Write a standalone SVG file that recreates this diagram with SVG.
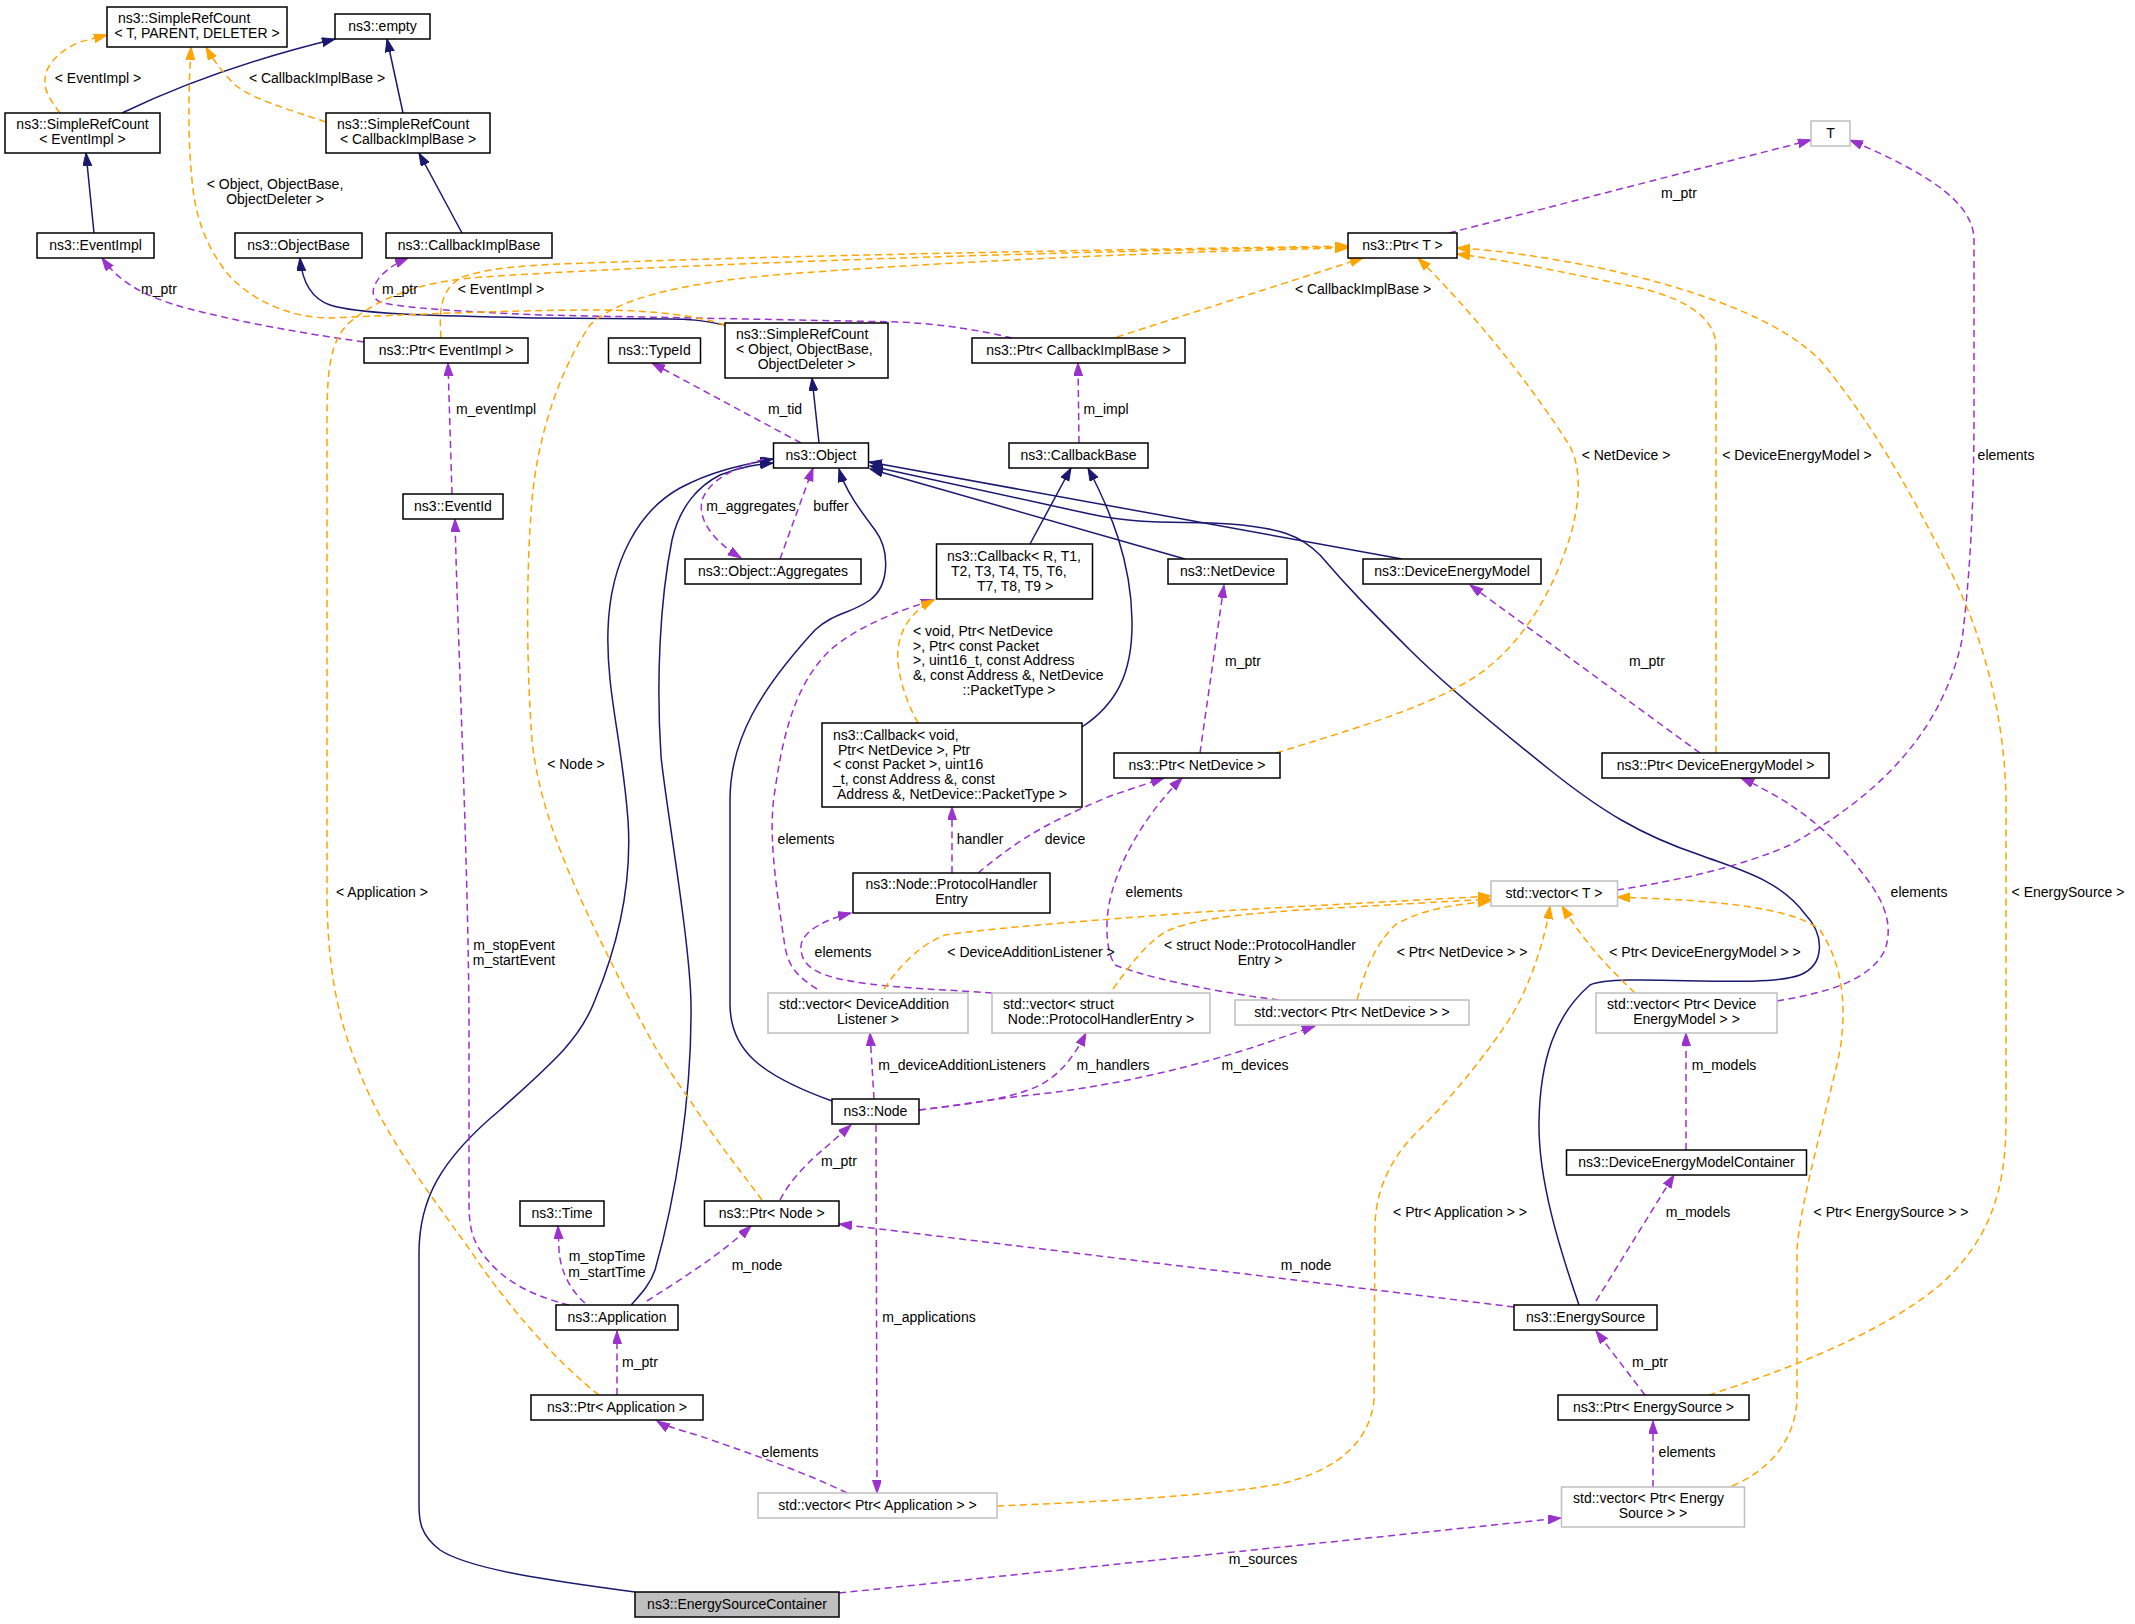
<svg xmlns="http://www.w3.org/2000/svg" width="2135" height="1624" viewBox="0 0 2135 1624">
<style>
text{font-family:"Liberation Sans",Arial,sans-serif;font-size:14px;fill:#000}
.m{text-anchor:middle}
.s{text-anchor:start}
.nb{fill:#fff;stroke:#000;stroke-width:1.5}
.ng{fill:#fff;stroke:#bfbfbf;stroke-width:1.5}
.nf{fill:#bfbfbf;stroke:#000;stroke-width:1.5}
.inh{fill:none;stroke:#191970;stroke-width:1.5;marker-end:url(#ab)}
.use{fill:none;stroke:#9a32cd;stroke-width:1.5;stroke-dasharray:7,4.5;marker-end:url(#ap)}
.tpl{fill:none;stroke:#ffa500;stroke-width:1.5;stroke-dasharray:7,4.5;marker-end:url(#ao)}
</style>
<defs>
<marker id="ab" markerUnits="userSpaceOnUse" markerWidth="14" markerHeight="10" refX="13" refY="4.5" orient="auto"><path d="M0,0 L13,4.5 L0,9 z" fill="#191970" stroke="#191970"/></marker>
<marker id="ap" markerUnits="userSpaceOnUse" markerWidth="14" markerHeight="10" refX="13" refY="4.5" orient="auto"><path d="M0,0 L13,4.5 L0,9 z" fill="#9a32cd" stroke="#9a32cd"/></marker>
<marker id="ao" markerUnits="userSpaceOnUse" markerWidth="14" markerHeight="10" refX="13" refY="4.5" orient="auto"><path d="M0,0 L13,4.5 L0,9 z" fill="#ffa500" stroke="#ffa500"/></marker>
</defs>
<rect width="2135" height="1624" fill="#fff"/>
<g id="edges">
<!-- inheritance -->
<path class="inh" d="M122,113 C170,90 240,62 335,39"/>
<path class="inh" d="M94,233 L86,153"/>
<path class="inh" d="M403,113 L387,39"/>
<path class="inh" d="M462,233 L419,153"/>
<path class="inh" d="M725,325 C700,320 690,319 669,319 L540,318 C450,316 360,315 330,305 C310,298 302,280 300,258"/>
<path class="inh" d="M819,443 L812,378"/>
<path class="inh" d="M1030,544 L1071,468"/>
<path class="inh" d="M1082,727 C1115,705 1133,675 1132,620 C1131,560 1110,510 1088,468"/>
<path class="inh" d="M1185,559 L870,469"/>
<path class="inh" d="M1402,559 L869,462"/>
<path class="inh" d="M1579,1305 C1560,1250 1538,1180 1539,1122 C1540,1060 1555,1015 1590,985 C1620,972 1760,990 1800,975 C1825,965 1825,935 1805,914 C1780,880 1740,870 1700,855 C1640,835 1600,810 1550,770 C1500,730 1440,680 1410,650 C1370,610 1350,590 1320,555 C1300,535 1280,528 1230,524 C1180,521 1140,525 1090,514 L870,466"/>
<path class="inh" d="M832,1101 C760,1075 730,1050 730,1004 L730,800 C730,740 760,690 815,630 C835,612 850,614 870,600 C890,585 890,550 875,530 C860,510 845,490 839,469"/>
<path class="inh" d="M631,1305 C640,1295 650,1285 655,1270 C675,1200 692,1100 691,1004 C690,940 665,800 661,756 C656,680 660,600 672,540 C680,505 700,485 720,475 C740,467 755,465 773,463"/>
<path class="inh" d="M635,1592 C560,1582 470,1570 440,1550 C420,1535 419,1520 419,1505 L419,1253 C419,1200 440,1160 500,1110 C550,1065 580,1040 595,1000 C620,940 632,880 628,820 C622,740 606,690 608,630 C610,560 640,510 680,488 C710,472 740,465 773,459"/>
<!-- usage -->
<path class="use" d="M364,342 C300,333 240,322 190,309 C140,296 118,280 102,258"/>
<path class="use" d="M1012,338 C980,330 940,324 900,322 L540,315 C470,312 400,308 380,302 C365,295 375,272 408,258"/>
<path class="use" d="M452,494 L448,363"/>
<path class="use" d="M569,1305 C530,1295 500,1280 480,1250 C470,1235 469,1220 469,1200 L469,1020 C468,850 458,650 455,519"/>
<path class="use" d="M585,1303 C570,1290 560,1270 559,1250 L558,1226"/>
<path class="use" d="M647,1301 C680,1280 720,1255 751,1226"/>
<path class="use" d="M617,1395 L617,1331"/>
<path class="use" d="M847,1493 C800,1470 740,1450 700,1436 C680,1430 665,1426 657,1421"/>
<path class="use" d="M876,1125 L877,1493"/>
<path class="use" d="M780,1200 C790,1180 810,1160 825,1148 L851,1125"/>
<path class="use" d="M1514,1307 L839,1224"/>
<path class="use" d="M874,1099 L870,1033"/>
<path class="use" d="M919,1110 C960,1105 1010,1100 1040,1085 C1060,1075 1075,1055 1086,1033"/>
<path class="use" d="M919,1110 C960,1105 1000,1098 1040,1094 C1120,1085 1200,1065 1260,1045 L1315,1026"/>
<path class="use" d="M992,993 C950,990 900,988 870,984 C820,978 800,968 801,946 C802,930 830,918 851,913"/>
<path class="use" d="M817,989 C795,975 787,965 784,940 C775,880 768,830 775,790 C785,720 800,680 830,650 C860,625 900,610 934,600"/>
<path class="use" d="M952,873 L952,807"/>
<path class="use" d="M978,873 C1000,855 1020,840 1044,827 C1070,813 1100,800 1113,795 L1164,778"/>
<path class="use" d="M1279,1000 C1200,990 1140,975 1115,965 C1105,950 1106,920 1109,905 C1115,870 1140,820 1182,778"/>
<path class="use" d="M1200,753 L1224,585"/>
<path class="use" d="M801,443 L652,363"/>
<path class="use" d="M764,459 C730,470 710,480 702,500 C698,520 712,540 741,558"/>
<path class="use" d="M780,559 L813,468"/>
<path class="use" d="M1079,443 L1078,363"/>
<path class="use" d="M1449,233 L1811,140"/>
<path class="use" d="M1617,890 C1680,880 1740,867 1790,845 C1870,800 1940,740 1962,640 C1972,560 1974,480 1974,413 L1974,240 C1974,200 1920,170 1850,140"/>
<path class="use" d="M1700,753 L1470,585"/>
<path class="use" d="M1777,1001 C1830,992 1870,980 1885,950 C1895,920 1880,895 1860,870 C1830,830 1790,800 1741,778"/>
<path class="use" d="M1686,1150 L1686,1033"/>
<path class="use" d="M1596,1301 L1674,1175"/>
<path class="use" d="M1645,1395 L1596,1331"/>
<path class="use" d="M1653,1487 L1653,1421"/>
<path class="use" d="M839,1593 L1561,1518"/>
<!-- template instances -->
<path class="tpl" d="M60,113 C50,100 44,90 45,80 C45,65 60,50 80,42 L107,35"/>
<path class="tpl" d="M326,122 C290,110 255,100 235,85 C222,72 212,58 206,47"/>
<path class="tpl" d="M725,325 C700,316 650,310 600,310 C500,310 380,316 330,318 C290,318 250,300 227,273 C205,245 195,215 192,180 C188,140 188,100 191,47"/>
<path class="tpl" d="M441,338 C439,310 440,290 462,277 C490,268 520,266 560,264 C800,255 1100,250 1348,246"/>
<path class="tpl" d="M599,1395 C560,1365 510,1310 470,1250 C420,1180 380,1130 355,1060 C335,1010 328,960 327,900 L327,420 C327,370 330,340 350,322 C380,297 420,283 470,278 C600,268 1000,252 1348,247"/>
<path class="tpl" d="M762,1200 C740,1170 715,1140 690,1100 C660,1060 640,1020 620,980 C580,900 540,820 532,740 C526,660 526,560 533,490 C540,430 560,370 590,325 C620,295 700,280 800,273 C950,262 1150,252 1348,248"/>
<path class="tpl" d="M1117,337 L1363,258"/>
<path class="tpl" d="M1276,753 C1350,730 1420,710 1470,680 C1520,650 1555,590 1572,530 C1582,490 1580,460 1566,440 C1540,400 1490,330 1418,258"/>
<path class="tpl" d="M1716,753 L1716,347 C1716,320 1690,300 1640,288 C1590,278 1520,262 1457,254"/>
<path class="tpl" d="M1709,1395 C1780,1372 1880,1335 1940,1285 C1990,1240 2006,1190 2006,1120 L2006,800 C2005,720 1985,640 1950,570 C1910,490 1870,420 1820,360 C1780,320 1700,290 1600,268 C1550,258 1500,250 1457,248"/>
<path class="tpl" d="M884,989 C900,965 920,945 945,935 C990,928 1100,920 1200,912 L1491,896"/>
<path class="tpl" d="M1113,989 C1130,965 1145,945 1165,932 C1190,920 1230,915 1300,910 L1491,899"/>
<path class="tpl" d="M1357,1000 C1365,970 1375,945 1395,925 C1420,910 1450,905 1491,901"/>
<path class="tpl" d="M997,1506 C1100,1502 1220,1495 1280,1484 C1340,1470 1370,1440 1374,1400 L1375,1225 C1376,1190 1390,1160 1415,1134 C1450,1100 1490,1050 1512,1015 C1530,985 1545,940 1550,906"/>
<path class="tpl" d="M1635,993 C1600,960 1580,935 1562,906"/>
<path class="tpl" d="M1732,1486 C1770,1470 1795,1440 1797,1400 L1797,1250 C1800,1200 1830,1100 1840,1050 C1848,1000 1840,960 1820,930 C1790,905 1700,900 1617,897"/>
<path class="tpl" d="M918,723 C905,700 896,670 898,650 C900,630 910,612 934,600"/>
<!-- labels -->
<text class="m" x="98" y="83">&lt; EventImpl &gt;</text>
<text class="m" x="317" y="83">&lt; CallbackImplBase &gt;</text>
<text class="m" x="275" y="189">&lt; Object, ObjectBase,</text>
<text class="m" x="275" y="204">ObjectDeleter &gt;</text>
<text class="m" x="159" y="294">m_ptr</text>
<text class="m" x="400" y="294">m_ptr</text>
<text class="m" x="501" y="294">&lt; EventImpl &gt;</text>
<text class="m" x="1363" y="294">&lt; CallbackImplBase &gt;</text>
<text class="m" x="1679" y="198">m_ptr</text>
<text class="m" x="496" y="414">m_eventImpl</text>
<text class="m" x="785" y="414">m_tid</text>
<text class="m" x="1106" y="414">m_impl</text>
<text class="m" x="576" y="769">&lt; Node &gt;</text>
<text class="m" x="751" y="511">m_aggregates</text>
<text class="m" x="831" y="511">buffer</text>
<text class="m" x="1626" y="460">&lt; NetDevice &gt;</text>
<text class="m" x="1797" y="460">&lt; DeviceEnergyModel &gt;</text>
<text class="m" x="2006" y="460">elements</text>
<text class="s" x="913" y="636">&lt; void, Ptr&lt; NetDevice</text>
<text class="s" x="913" y="651">&gt;, Ptr&lt; const Packet</text>
<text class="s" x="913" y="665">&gt;, uint16_t, const Address</text>
<text class="s" x="913" y="680">&amp;, const Address &amp;, NetDevice</text>
<text class="m" x="1009" y="695">::PacketType &gt;</text>
<text class="m" x="1243" y="666">m_ptr</text>
<text class="m" x="1647" y="666">m_ptr</text>
<text class="m" x="382" y="897">&lt; Application &gt;</text>
<text class="m" x="806" y="844">elements</text>
<text class="m" x="980" y="844">handler</text>
<text class="m" x="1065" y="844">device</text>
<text class="m" x="1154" y="897">elements</text>
<text class="m" x="1919" y="897">elements</text>
<text class="m" x="2068" y="897">&lt; EnergySource &gt;</text>
<text class="m" x="514" y="950">m_stopEvent</text>
<text class="m" x="514" y="965">m_startEvent</text>
<text class="m" x="843" y="957">elements</text>
<text class="m" x="1031" y="957">&lt; DeviceAdditionListener &gt;</text>
<text class="m" x="1260" y="950">&lt; struct Node::ProtocolHandler</text>
<text class="m" x="1260" y="965">Entry &gt;</text>
<text class="m" x="1462" y="957">&lt; Ptr&lt; NetDevice &gt; &gt;</text>
<text class="m" x="1705" y="957">&lt; Ptr&lt; DeviceEnergyModel &gt; &gt;</text>
<text class="m" x="962" y="1070">m_deviceAdditionListeners</text>
<text class="m" x="1113" y="1070">m_handlers</text>
<text class="m" x="1255" y="1070">m_devices</text>
<text class="m" x="1724" y="1070">m_models</text>
<text class="m" x="839" y="1166">m_ptr</text>
<text class="m" x="1460" y="1217">&lt; Ptr&lt; Application &gt; &gt;</text>
<text class="m" x="1698" y="1217">m_models</text>
<text class="m" x="1891" y="1217">&lt; Ptr&lt; EnergySource &gt; &gt;</text>
<text class="m" x="607" y="1261">m_stopTime</text>
<text class="m" x="607" y="1277">m_startTime</text>
<text class="m" x="757" y="1270">m_node</text>
<text class="m" x="1306" y="1270">m_node</text>
<text class="m" x="929" y="1322">m_applications</text>
<text class="m" x="640" y="1367">m_ptr</text>
<text class="m" x="1650" y="1367">m_ptr</text>
<text class="m" x="790" y="1457">elements</text>
<text class="m" x="1687" y="1457">elements</text>
<text class="m" x="1263" y="1564">m_sources</text>
</g>
<g id="n_srcTPD"><rect class="nb" x="107" y="7" width="180" height="40"/><text class="s" x="118" y="23">ns3::SimpleRefCount</text><text class="m" x="197" y="38">&lt; T, PARENT, DELETER &gt;</text></g>
<g id="n_empty"><rect class="nb" x="335" y="14" width="95" height="25"/><text class="m" x="382.5" y="31">ns3::empty</text></g>
<g id="n_srcEI"><rect class="nb" x="5" y="113" width="155" height="40"/><text class="m" x="82.5" y="129">ns3::SimpleRefCount</text><text class="m" x="82.5" y="144">&lt; EventImpl &gt;</text></g>
<g id="n_srcCBIB"><rect class="nb" x="326" y="113" width="164" height="40"/><text class="s" x="337" y="129">ns3::SimpleRefCount</text><text class="m" x="408" y="144">&lt; CallbackImplBase &gt;</text></g>
<g id="n_eventImpl"><rect class="nb" x="37" y="233" width="117" height="25"/><text class="m" x="95.5" y="250">ns3::EventImpl</text></g>
<g id="n_objectBase"><rect class="nb" x="235" y="233" width="127" height="25"/><text class="m" x="298.5" y="250">ns3::ObjectBase</text></g>
<g id="n_cbImplBase"><rect class="nb" x="386" y="233" width="166" height="25"/><text class="m" x="469" y="250">ns3::CallbackImplBase</text></g>
<g id="n_ptrEventImpl"><rect class="nb" x="364" y="338" width="164" height="25"/><text class="m" x="446" y="355">ns3::Ptr&lt; EventImpl &gt;</text></g>
<g id="n_typeId"><rect class="nb" x="608.5" y="338" width="92" height="25"/><text class="m" x="654.5" y="355">ns3::TypeId</text></g>
<g id="n_srcOOBOD"><rect class="nb" x="725" y="323" width="163" height="55"/><text class="s" x="736" y="339">ns3::SimpleRefCount</text><text class="s" x="736" y="354">&lt; Object, ObjectBase,</text><text class="m" x="806.5" y="369">ObjectDeleter &gt;</text></g>
<g id="n_ptrCBIB"><rect class="nb" x="972" y="338" width="213" height="25"/><text class="m" x="1078.5" y="355">ns3::Ptr&lt; CallbackImplBase &gt;</text></g>
<g id="n_ptrT"><rect class="nb" x="1348" y="233" width="109" height="25"/><text class="m" x="1402.5" y="250">ns3::Ptr&lt; T &gt;</text></g>
<g id="n_T"><rect class="ng" x="1811" y="121" width="39" height="25"/><text class="m" x="1830.5" y="138">T</text></g>
<g id="n_eventId"><rect class="nb" x="403" y="494" width="100" height="25"/><text class="m" x="453" y="511">ns3::EventId</text></g>
<g id="n_object"><rect class="nb" x="773.5" y="443" width="95" height="25"/><text class="m" x="821" y="460">ns3::Object</text></g>
<g id="n_callbackBase"><rect class="nb" x="1009" y="443" width="139" height="25"/><text class="m" x="1078.5" y="460">ns3::CallbackBase</text></g>
<g id="n_aggregates"><rect class="nb" x="685" y="559" width="176" height="25"/><text class="m" x="773" y="576">ns3::Object::Aggregates</text></g>
<g id="n_callbackR"><rect class="nb" x="936.5" y="544" width="156" height="55"/><text class="s" x="947" y="561">ns3::Callback&lt; R, T1,</text><text class="s" x="951" y="576">T2, T3, T4, T5, T6,</text><text class="m" x="1015" y="591">T7, T8, T9 &gt;</text></g>
<g id="n_netDevice"><rect class="nb" x="1168" y="559" width="119" height="25"/><text class="m" x="1227.5" y="576">ns3::NetDevice</text></g>
<g id="n_dem"><rect class="nb" x="1363" y="559" width="178" height="25"/><text class="m" x="1452" y="576">ns3::DeviceEnergyModel</text></g>
<g id="n_callbackVoid"><rect class="nb" x="822" y="723" width="260" height="84"/><text class="s" x="833" y="740">ns3::Callback&lt; void,</text><text class="s" x="838" y="755">Ptr&lt; NetDevice &gt;, Ptr</text><text class="s" x="833" y="769">&lt; const Packet &gt;, uint16</text><text class="s" x="833" y="784">_t, const Address &amp;, const</text><text class="m" x="952" y="799">Address &amp;, NetDevice::PacketType &gt;</text></g>
<g id="n_ptrNetDevice"><rect class="nb" x="1114" y="753" width="166" height="25"/><text class="m" x="1197" y="770">ns3::Ptr&lt; NetDevice &gt;</text></g>
<g id="n_ptrDEM"><rect class="nb" x="1602" y="753" width="227" height="25"/><text class="m" x="1715.5" y="770">ns3::Ptr&lt; DeviceEnergyModel &gt;</text></g>
<g id="n_phe"><rect class="nb" x="853" y="873" width="197" height="40"/><text class="m" x="951.5" y="889">ns3::Node::ProtocolHandler</text><text class="m" x="951.5" y="904">Entry</text></g>
<g id="n_vecT"><rect class="ng" x="1491" y="881" width="126.5" height="25"/><text class="m" x="1554" y="898">std::vector&lt; T &gt;</text></g>
<g id="n_vecDAL"><rect class="ng" x="768" y="993" width="200" height="40"/><text class="s" x="779" y="1009">std::vector&lt; DeviceAddition</text><text class="m" x="868" y="1024">Listener &gt;</text></g>
<g id="n_vecPHE"><rect class="ng" x="992" y="993" width="218" height="40"/><text class="s" x="1003" y="1009">std::vector&lt; struct</text><text class="m" x="1101" y="1024">Node::ProtocolHandlerEntry &gt;</text></g>
<g id="n_vecNetDevice"><rect class="ng" x="1235" y="1000" width="234" height="25"/><text class="m" x="1352" y="1017">std::vector&lt; Ptr&lt; NetDevice &gt; &gt;</text></g>
<g id="n_vecDEM"><rect class="ng" x="1596" y="993" width="181" height="40"/><text class="s" x="1607" y="1009">std::vector&lt; Ptr&lt; Device</text><text class="m" x="1686.5" y="1024">EnergyModel &gt; &gt;</text></g>
<g id="n_node"><rect class="nb" x="832" y="1099" width="87" height="25"/><text class="m" x="875.5" y="1116">ns3::Node</text></g>
<g id="n_demc"><rect class="nb" x="1566.5" y="1150" width="240" height="25"/><text class="m" x="1686.5" y="1167">ns3::DeviceEnergyModelContainer</text></g>
<g id="n_time"><rect class="nb" x="520" y="1201" width="84" height="25"/><text class="m" x="562" y="1218">ns3::Time</text></g>
<g id="n_ptrNode"><rect class="nb" x="704.5" y="1201" width="134.5" height="25"/><text class="m" x="771.75" y="1218">ns3::Ptr&lt; Node &gt;</text></g>
<g id="n_application"><rect class="nb" x="556" y="1305" width="122" height="25"/><text class="m" x="617" y="1322">ns3::Application</text></g>
<g id="n_energySource"><rect class="nb" x="1514" y="1305" width="143" height="25"/><text class="m" x="1585.5" y="1322">ns3::EnergySource</text></g>
<g id="n_ptrApp"><rect class="nb" x="531" y="1395" width="172" height="25"/><text class="m" x="617" y="1412">ns3::Ptr&lt; Application &gt;</text></g>
<g id="n_ptrES"><rect class="nb" x="1558" y="1395" width="191" height="25"/><text class="m" x="1653.5" y="1412">ns3::Ptr&lt; EnergySource &gt;</text></g>
<g id="n_vecApp"><rect class="ng" x="758" y="1493" width="239" height="25"/><text class="m" x="877.5" y="1510">std::vector&lt; Ptr&lt; Application &gt; &gt;</text></g>
<g id="n_vecES"><rect class="ng" x="1561.5" y="1487" width="183" height="40"/><text class="s" x="1573" y="1503">std::vector&lt; Ptr&lt; Energy</text><text class="m" x="1653" y="1518">Source &gt; &gt;</text></g>
<g id="n_esc"><rect class="nf" x="635" y="1592" width="204" height="25"/><text class="m" x="737" y="1609">ns3::EnergySourceContainer</text></g>
</svg>
